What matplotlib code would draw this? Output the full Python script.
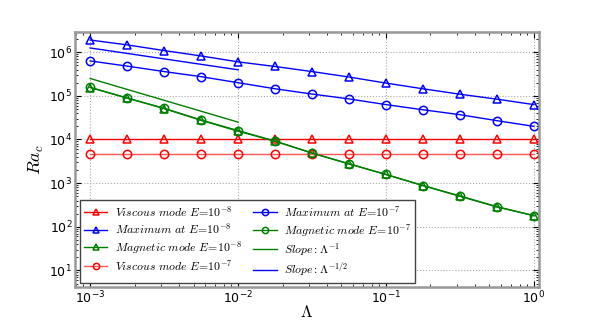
import numpy as np
import matplotlib
matplotlib.use('Agg')
import matplotlib.pyplot as plt

plt.rcParams['mathtext.fontset'] = 'cm'

# Lambda values, 13 points from 1e-3 to 1
lam = [1e-3, 1.78e-3, 3.16e-3, 5.62e-3, 1e-2, 1.78e-2, 3.16e-2, 5.62e-2,
       1e-1, 1.78e-1, 3.16e-1, 5.62e-1, 1.0]

visc_e8 = [1e4] * 13
max_e8 = [1.9e6, 1.47e6, 1.09e6, 8.2e5, 6.0e5, 4.7e5, 3.6e5, 2.7e5,
          1.96e5, 1.45e5, 1.09e5, 8.4e4, 6.3e4]
mag_e8 = [1.55e5, 8.9e4, 5.1e4, 2.75e4, 1.55e4, 9.1e3, 4.9e3, 2.77e3,
          1.58e3, 8.8e2, 5.0e2, 2.85e2, 1.8e2]
visc_e7 = [4.7e3] * 13
max_e7 = [6.3e5, 4.8e5, 3.6e5, 2.75e5, 2.0e5, 1.45e5, 1.1e5, 8.5e4,
          6.3e4, 4.8e4, 3.7e4, 2.7e4, 2.0e4]
mag_e7 = [1.57e5, 8.9e4, 5.2e4, 2.8e4, 1.6e4, 9.2e3, 4.9e3, 2.77e3,
          1.58e3, 8.8e2, 5.1e2, 2.9e2, 1.8e2]

slope_x = [1e-3, 1e-2]
slope_m1 = [2.5e5, 2.5e4]
slope_half = [1.25e6, 3.95e5]

fig = plt.figure(figsize=(6, 3.2), dpi=100)
ax = fig.add_axes([0.125, 0.102, 0.773, 0.798])

mk = dict(markersize=6, markerfacecolor='none', markeredgewidth=1.1, linewidth=1)
ax.plot(lam, visc_e8, '-^', color='red', markeredgecolor='red',
        label=r'$Viscous\ mode\ E\!=\!10^{-8}$', **mk)
ax.plot(lam, max_e8, '-^', color='blue', markeredgecolor='blue',
        label=r'$Maximum\ at\ E\!=\!10^{-8}$', **mk)
ax.plot(lam, mag_e8, '-^', color='green', markeredgecolor='green',
        label=r'$Magnetic\ mode\ E\!=\!10^{-8}$', **mk)
ax.plot(lam, visc_e7, '-o', color='#ff5555', markeredgecolor='red',
        label=r'$Viscous\ mode\ E\!=\!10^{-7}$', **mk)
ax.plot(lam, max_e7, '-o', color='blue', markeredgecolor='blue',
        label=r'$Maximum\ at\ E\!=\!10^{-7}$', **mk)
ax.plot(lam, mag_e7, '-o', color='green', markeredgecolor='green',
        label=r'$Magnetic\ mode\ E\!=\!10^{-7}$', **mk)
ax.plot(slope_x, slope_m1, '-', color='green', linewidth=1,
        label=r'$Slope:\Lambda^{-1}$')
ax.plot(slope_x, slope_half, '-', color='blue', linewidth=1,
        label=r'$Slope:\Lambda^{-1/2}$')

ax.set_xscale('log')
ax.set_yscale('log')
ax.set_xlim(7.9e-4, 1.08)
ax.set_ylim(4.1, 2.9e6)

ax.grid(True, which='major', color='#aaaaaa', linestyle=':', linewidth=0.8)
ax.tick_params(which='both', direction='in', top=True, right=True, labelsize=9, pad=2)
ax.tick_params(which='major', length=4)
ax.tick_params(which='minor', length=2)
for s in ax.spines.values():
    s.set_color('#999999')
    s.set_linewidth(1.8)

ax.set_xlabel(r'$\Lambda$', fontsize=12, labelpad=-3)
ax.set_ylabel(r'$Ra_c$', fontsize=13, labelpad=2)

leg = ax.legend(loc='lower left', ncol=2, fontsize=8.5, fancybox=False,
                framealpha=1, edgecolor='#444444', handlelength=2.0,
                markerscale=0.75, labelspacing=0.2, columnspacing=1.0,
                handletextpad=0.6, borderpad=0.35, borderaxespad=0.4)
leg.get_frame().set_linewidth(1)

fig.savefig('out.png', dpi=100, facecolor='white')
